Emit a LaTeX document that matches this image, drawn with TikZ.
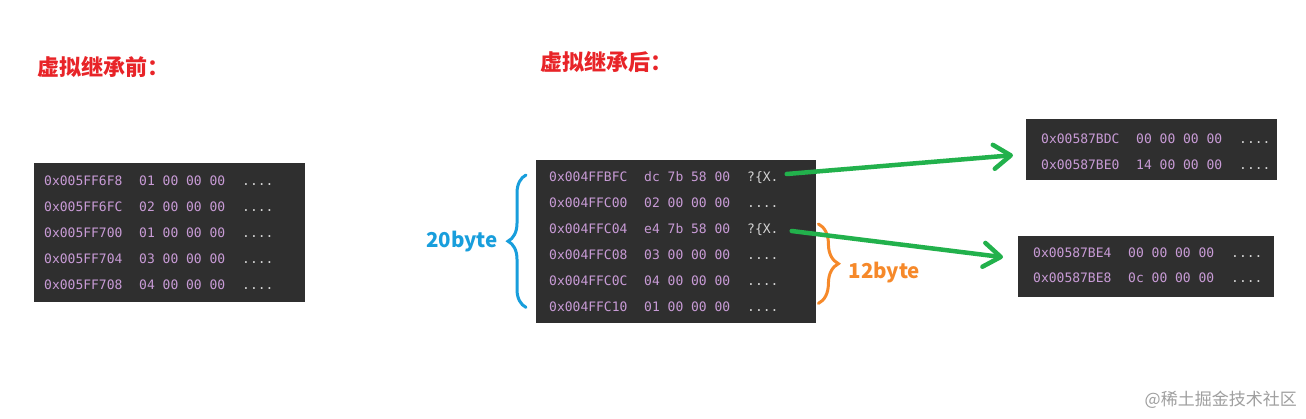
\documentclass[tikz,border=0pt]{standalone}
\usepackage{fontspec}
\newfontfamily\cjkfont{Noto Sans CJK SC}
\newfontfamily\memfont{DejaVu Sans Mono}
\usepackage{xcolor}
\usepackage{tikz}
\usetikzlibrary{positioning, calc, arrows.meta, decorations.pathreplacing}

\definecolor{memback}{RGB}{47,47,47}
\definecolor{memaddr}{RGB}{200,155,214}
\definecolor{memtext}{RGB}{212,212,212}
\definecolor{titlered}{RGB}{232,36,40}
\definecolor{braceblue}{RGB}{24,158,220}
\definecolor{braceorange}{RGB}{246,137,42}
\definecolor{ptrgreen}{RGB}{34,177,76}

\newcommand{\nochars}{....}
\newcommand{\ptrchars}{?\{X.}

\begin{document}
\begin{tikzpicture}[
    x=1pt, y=-1pt,
    membox/.style={fill=memback, draw=none, anchor=north west, inner sep=0pt},
    addr/.style={font=\memfont\fontsize{13}{14}\selectfont, text=memaddr,
                 anchor=base west, inner sep=0pt},
    chars/.style={addr, text=memtext},
    title/.style={font=\cjkfont\bfseries\fontsize{22}{24}\selectfont, text=titlered,
                  anchor=west, inner sep=0pt},
    size/.style={font=\cjkfont\bfseries\fontsize{20.5}{22}\selectfont, inner sep=0pt},
    brace/.style={decorate, decoration={brace, amplitude=#1}, line width=3pt, line cap=round},
    ptr/.style={-{Straight Barb[length=17pt, width=24pt, round]}, line width=4.5pt,
                draw=ptrgreen, line cap=round}
]
\useasboundingbox (0,0) rectangle (1306,419);
\fill[white] (0,0) rectangle (1306,419);

% titles
\node[title] (ttlbefore) at (37,67) {虚拟继承前：};
\node[title] (ttlafter)  at (540,62) {虚拟继承后：};

% memory windows
\node[membox, minimum width=271pt, minimum height=139pt] (before) at (34,163) {};
\node[membox, minimum width=280pt, minimum height=163pt] (after)  at (536,160) {};
\node[membox, minimum width=251pt, minimum height=61pt]  (vbtop)  at (1026,119) {};
\node[membox, minimum width=256pt, minimum height=61pt]  (vbbot)  at (1018,236) {};

% before: plain layout
\foreach \addrtxt/\bytetxt [count=\i] in {0x005FF6F8/01 00 00 00, 0x005FF6FC/02 00 00 00,
    0x005FF700/01 00 00 00, 0x005FF704/03 00 00 00, 0x005FF708/04 00 00 00}{
  \node[addr]  (ba\i) at ($(before.north west)+(10,{22.5+26*(\i-1)})$) {\addrtxt};
  \node[addr]  (bb\i) at ($(ba\i.base west)+(95,0)$) {\bytetxt};
  \node[chars] (bc\i) at ($(ba\i.base west)+(198,0)$) {\nochars};
}

% after: with vbptr
\foreach \addrtxt/\bytetxt/\asciitxt [count=\i] in {0x004FFBFC/dc 7b 58 00/\ptrchars,
    0x004FFC00/02 00 00 00/\nochars, 0x004FFC04/e4 7b 58 00/\ptrchars,
    0x004FFC08/03 00 00 00/\nochars, 0x004FFC0C/04 00 00 00/\nochars,
    0x004FFC10/01 00 00 00/\nochars}{
  \node[addr]  (aa\i) at ($(after.north west)+(13,{21.5+26*(\i-1)})$) {\addrtxt};
  \node[addr]  (ab\i) at ($(aa\i.base west)+(95,0)$) {\bytetxt};
  \node[chars] (ac\i) at ($(aa\i.base west)+(198,0)$) {\asciitxt};
}

% virtual base tables
\foreach \addrtxt/\bytetxt [count=\i] in {0x00587BDC/00 00 00 00, 0x00587BE0/14 00 00 00}{
  \node[addr]  (ta\i) at ($(vbtop.north west)+(15,{24.5+26*(\i-1)})$) {\addrtxt};
  \node[addr]  (tb\i) at ($(ta\i.base west)+(95,0)$) {\bytetxt};
  \node[chars] (tc\i) at ($(ta\i.base west)+(198,0)$) {\nochars};
}
\foreach \addrtxt/\bytetxt [count=\i] in {0x00587BE4/00 00 00 00, 0x00587BE8/0c 00 00 00}{
  \node[addr]  (ua\i) at ($(vbbot.north west)+(15,{21.5+25*(\i-1)})$) {\addrtxt};
  \node[addr]  (ub\i) at ($(ua\i.base west)+(95,0)$) {\bytetxt};
  \node[chars] (uc\i) at ($(ua\i.base west)+(198,0)$) {\nochars};
}

% braces
\coordinate (bluebot) at ($(after.south west)+(-10,-16)$);
\coordinate (bluetop) at ($(after.north west)+(-10,15)$);
\draw[brace=18, braceblue] (bluebot) -- (bluetop);
\coordinate (bluetip) at ($(bluebot)!0.5!(bluetop)+(-18,0)$);
\node[size, text=braceblue, left=10pt of bluetip] (twenty) {20byte};

\coordinate (orangetop) at ($(after.north east)+(2,64)$);
\coordinate (orangebot) at ($(after.south east)+(2,-20)$);
\draw[brace=20, braceorange] (orangetop) -- (orangebot);
\coordinate (orangetip) at ($(orangetop)!0.5!(orangebot)+(20,0)$);
\node[size, text=braceorange, right=10pt of orangetip, yshift=-9pt] (twelve) {12byte};

% vbptr arrows
\coordinate (ptrone) at ($(ac1.base east)+(8,-7.5)$);
\coordinate (ptrtwo) at ($(ac3.base east)+(13,-2.5)$);
\draw[ptr] (ptrone) -- ($(vbtop.west)+(-13,5.5)$);
\draw[ptr] (ptrtwo) -- ($(vbbot.west)+(-15,-9.5)$);

\node[font=\cjkfont\fontsize{17}{20}\selectfont, text=gray!75, anchor=east, inner sep=0pt]
  (mark) at (1297,400) {@稀土掘金技术社区};

\end{tikzpicture}
\end{document}
